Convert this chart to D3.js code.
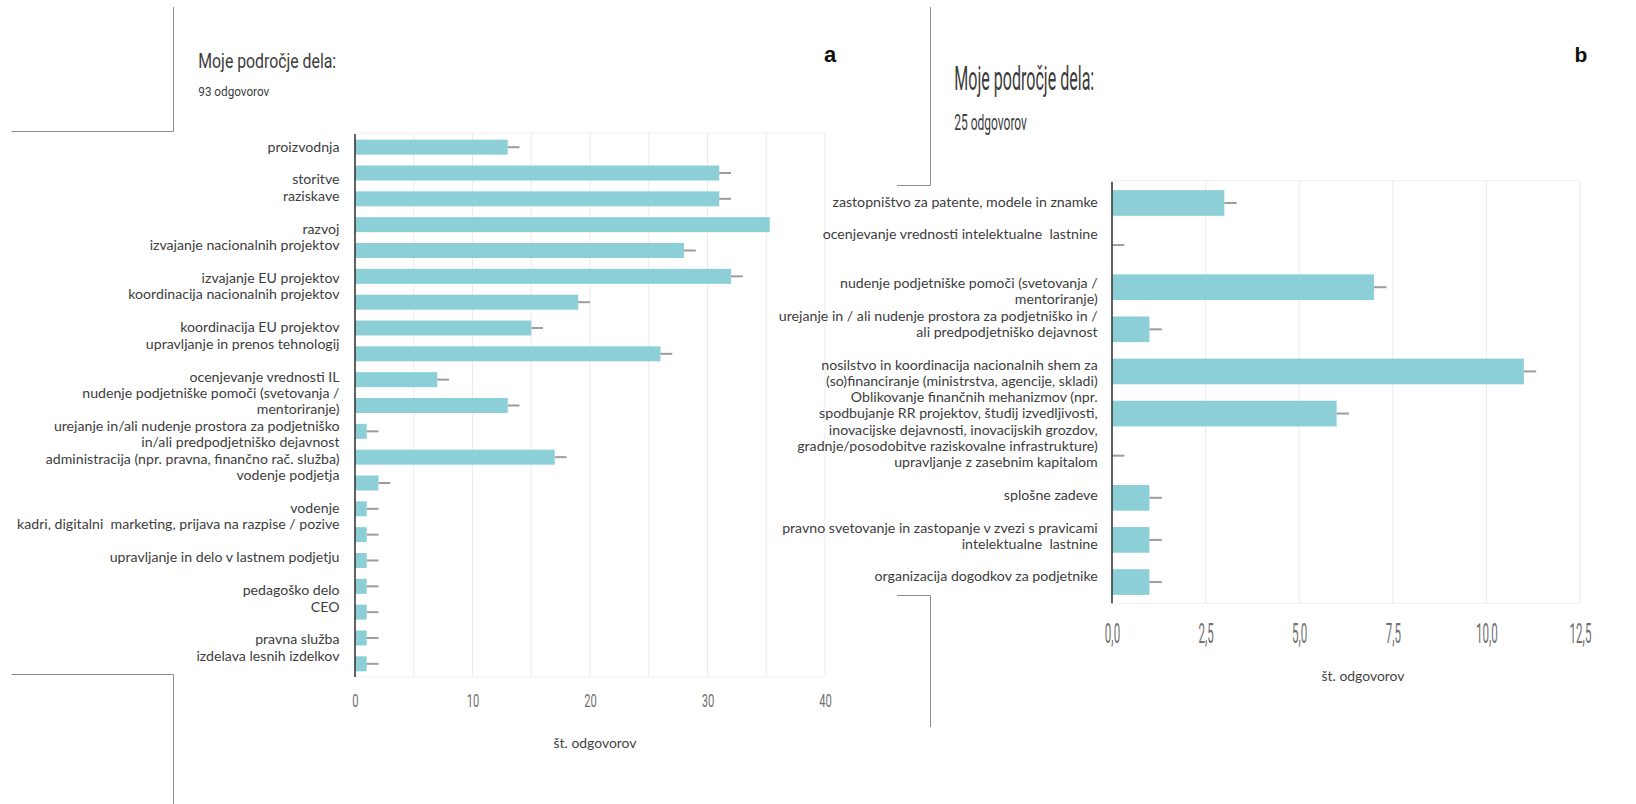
<!DOCTYPE html>
<html>
<head>
<meta charset="utf-8">
<script src="https://cdn.jsdelivr.net/npm/d3@7"></script>
<style>
  html, body { margin: 0; padding: 0; background: #ffffff; }
  svg { display: block; }
</style>
</head>
<body>
<script>
// ---------------- DATA ----------------
const catsA = [
  "proizvodnja", "storitve", "raziskave", "razvoj",
  "izvajanje nacionalnih projektov", "izvajanje EU projektov",
  "koordinacija nacionalnih projektov", "koordinacija EU projektov",
  "upravljanje in prenos tehnologij", "ocenjevanje vrednosti IL",
  "nudenje podjetniške pomoči (svetovanja / mentoriranje)",
  "urejanje in/ali nudenje prostora za podjetniško in/ali predpodjetniško dejavnost",
  "administracija (npr. pravna, finančno rač. služba)", "vodenje podjetja",
  "vodenje", "kadri, digitalni marketing, prijava na razpise / pozive",
  "upravljanje in delo v lastnem podjetju", "pedagoško delo", "CEO",
  "pravna služba", "izdelava lesnih izdelkov"
];
const valuesA = [13, 31, 31, 35.3, 28, 32, 19, 15, 26, 7, 13, 1, 17, 2, 1, 1, 1, 1, 1, 1, 1];
const errorsA = [1, 1, 1, 0, 1, 1, 1, 1, 1, 1, 1, 1, 1, 1, 1, 1, 1, 1, 1, 1, 1];
const labelLinesA = [
  "proizvodnja", "",
  "storitve", "raziskave", "",
  "razvoj", "izvajanje nacionalnih projektov", "",
  "izvajanje EU projektov", "koordinacija nacionalnih projektov", "",
  "koordinacija EU projektov", "upravljanje in prenos tehnologij", "",
  "ocenjevanje vrednosti IL", "nudenje podjetniške pomoči (svetovanja /",
  "mentoriranje)", "urejanje in/ali nudenje prostora za podjetniško",
  "in/ali predpodjetniško dejavnost",
  "administracija (npr. pravna, finančno rač. služba)", "vodenje podjetja", "",
  "vodenje", "kadri, digitalni  marketing, prijava na razpise / pozive", "",
  "upravljanje in delo v lastnem podjetju", "",
  "pedagoško delo", "CEO", "",
  "pravna služba", "izdelava lesnih izdelkov"
];
const ticksA = [0, 10, 20, 30, 40];
const tickLabelsA = ["0", "10", "20", "30", "40"];
const gridA = [5, 10, 15, 20, 25, 30, 35, 40];

const catsB = [
  "zastopništvo za patente, modele in znamke",
  "ocenjevanje vrednosti intelektualne lastnine",
  "nudenje podjetniške pomoči (svetovanja / mentoriranje)",
  "urejanje in / ali nudenje prostora za podjetniško in / ali predpodjetniško dejavnost",
  "nosilstvo in koordinacija nacionalnih shem za (so)financiranje (ministrstva, agencije, skladi)",
  "Oblikovanje finančnih mehanizmov (npr. spodbujanje RR projektov, študij izvedljivosti, inovacijske dejavnosti, inovacijskih grozdov, gradnje/posodobitve raziskovalne infrastrukture)",
  "upravljanje z zasebnim kapitalom",
  "splošne zadeve",
  "pravno svetovanje in zastopanje v zvezi s pravicami intelektualne lastnine",
  "organizacija dogodkov za podjetnike"
];
const valuesB = [3, 0, 7, 1, 11, 6, 0, 1, 1, 1];
const errorsB = [0.33, 0.33, 0.33, 0.33, 0.33, 0.33, 0.33, 0.33, 0.33, 0.33];
const labelLinesB = [
  "zastopništvo za patente, modele in znamke", "",
  "ocenjevanje vrednosti intelektualne  lastnine", "", "",
  "nudenje podjetniške pomoči (svetovanja /", "mentoriranje)",
  "urejanje in / ali nudenje prostora za podjetniško in /",
  "ali predpodjetniško dejavnost", "",
  "nosilstvo in koordinacija nacionalnih shem za",
  "(so)financiranje (ministrstva, agencije, skladi)",
  "Oblikovanje finančnih mehanizmov (npr.",
  "spodbujanje RR projektov, študij izvedljivosti,",
  "inovacijske dejavnosti, inovacijskih grozdov,",
  "gradnje/posodobitve raziskovalne infrastrukture)",
  "upravljanje z zasebnim kapitalom", "",
  "splošne zadeve", "",
  "pravno svetovanje in zastopanje v zvezi s pravicami",
  "intelektualne  lastnine", "",
  "organizacija dogodkov za podjetnike"
];
const ticksB = [0, 2.5, 5, 7.5, 10, 12.5];
const tickLabelsB = ["0,0", "2,5", "5,0", "7,5", "10,0", "12,5"];
const gridB = [2.5, 5, 7.5, 10, 12.5];

const titleText = "Moje področje dela:";
const subtitleA = "93 odgovorov";
const subtitleB = "25 odgovorov";
const axisTitle = "št. odgovorov";

// ---------------- STYLE ----------------
const BAR = "#8dcfd7";
const ERR = "#9c9c9c";
const GRID = "#ebebeb";
const FRAME = "#8c8c8c";
const LABEL_FONT = "Lato, 'Open Sans', sans-serif";
const TITLE_FONT = "Roboto, 'Noto Sans', sans-serif";

const W = 1636, H = 804;
const svg = d3.select("body").append("svg").attr("width", W).attr("height", H);
svg.append("rect").attr("width", W).attr("height", H).attr("fill", "#fff");

// frame fragments (pieces of pasted screenshots)
const framePaths = [
  [[173.5, 7], [173.5, 131.5], [11.5, 131.5]],
  [[11.5, 674.5], [173.5, 674.5], [173.5, 804]],
  [[930.5, 7], [930.5, 185.5], [897, 185.5]],
  [[897, 595.5], [930.5, 595.5], [930.5, 727]]
];
svg.selectAll("path.frame").data(framePaths).join("path")
  .attr("class", "frame")
  .attr("d", d3.line())
  .attr("fill", "none").attr("stroke", FRAME).attr("stroke-width", 1);

// helper: horizontally compressed text
function fitText(parent, x, y, txt, opts) {
  const g = parent.append("g").attr("transform", `translate(${x},${y})`);
  const t = g.append("text").text(txt)
    .attr("font-family", opts.font).attr("font-size", opts.size)
    .attr("font-weight", opts.weight || "normal")
    .attr("fill", opts.color).attr("text-anchor", opts.anchor || "start")
    .attr("dy", opts.dy || 0);
  if (opts.width) {
    const len = t.node().getComputedTextLength();
    t.attr("transform", `scale(${opts.width / len},1)`);
  } else if (opts.sx) {
    t.attr("transform", `scale(${opts.sx},1)`);
  }
  return t;
}

function drawChart(cfg) {
  const x = d3.scaleLinear().domain(cfg.domain).range(cfg.xRange);
  const y = d3.scaleBand().domain(cfg.cats).range(cfg.yRange)
    .paddingInner(cfg.padInner).paddingOuter(cfg.padOuter);
  const g = svg.append("g");

  // gridlines
  g.selectAll("line.grid").data(cfg.grid).join("line")
    .attr("x1", d => x(d)).attr("x2", d => x(d))
    .attr("y1", cfg.yRange[0] - 1).attr("y2", cfg.yRange[1])
    .attr("stroke", GRID).attr("stroke-width", 1);
  g.append("line")
    .attr("x1", x(cfg.domain[0])).attr("x2", x(cfg.domain[1]))
    .attr("y1", cfg.yRange[0] - 1).attr("y2", cfg.yRange[0] - 1)
    .attr("stroke", "#f1f1f1");
  g.append("line")
    .attr("x1", x(cfg.domain[0])).attr("x2", x(cfg.domain[1]))
    .attr("y1", cfg.yRange[1]).attr("y2", cfg.yRange[1])
    .attr("stroke", "#f1f1f1");

  // bars
  g.selectAll("rect.bar").data(cfg.cats).join("rect")
    .attr("class", "bar")
    .attr("x", x(0))
    .attr("y", d => y(d))
    .attr("width", (d, i) => x(cfg.values[i]) - x(0))
    .attr("height", y.bandwidth())
    .attr("fill", BAR);

  // error whiskers
  g.selectAll("line.err").data(cfg.cats.filter((d, i) => cfg.errors[i] > 0)).join("line")
    .attr("x1", d => x(cfg.values[cfg.cats.indexOf(d)]))
    .attr("x2", d => { const i = cfg.cats.indexOf(d); return x(cfg.values[i] + cfg.errors[i]); })
    .attr("y1", d => y(d) + y.bandwidth() / 2)
    .attr("y2", d => y(d) + y.bandwidth() / 2)
    .attr("stroke", ERR).attr("stroke-width", 2);

  // vertical axis line
  g.append("line")
    .attr("x1", x(0)).attr("x2", x(0))
    .attr("y1", cfg.yRange[0]).attr("y2", cfg.yRange[1])
    .attr("stroke", "#3a3a3a").attr("stroke-width", 1.6);

  // x axis ticks
  const ax = g.append("g").attr("transform", `translate(0,${cfg.yRange[1]})`)
    .call(d3.axisBottom(x).tickValues(cfg.ticks)
      .tickFormat((d, i) => cfg.tickLabels[i]).tickSize(0));
  ax.select(".domain").remove();
  ax.selectAll("text")
    .attr("y", cfg.tickOffset).attr("dy", "0.35em")
    .attr("font-family", TITLE_FONT).attr("font-size", cfg.tickSize)
    .attr("fill", "#707070")
    .attr("transform", `scale(${cfg.tickSx},1)`);

  // category labels (line grid)
  const ly = d3.scaleLinear().domain([0, 1]).range([cfg.lineY0, cfg.lineY0 + cfg.lineStep]);
  const lg = g.append("g").attr("transform", `translate(${cfg.labelRight},0)`);
  const texts = lg.selectAll("text.lab").data(labelIdx(cfg.lines)).join("text")
    .attr("class", "lab")
    .attr("y", d => ly(d.k)).attr("dy", "0.35em")
    .attr("text-anchor", "end")
    .attr("font-family", LABEL_FONT).attr("font-size", cfg.labelSize)
    .attr("fill", "#3d3d3d")
    .style("white-space", "pre")
    .text(d => d.t);
  const refNode = texts.filter(d => d.t === cfg.refLine).node();
  const sx = cfg.refWidth / refNode.getComputedTextLength();
  lg.attr("transform", `translate(${cfg.labelRight},0) scale(${sx},1)`);

  // axis title
  fitText(g, cfg.axisTitlePos[0], cfg.axisTitlePos[1], axisTitle,
    { font: LABEL_FONT, size: 14, color: "#444", anchor: "middle", dy: "0.35em", width: 83 });
}

function labelIdx(lines) {
  return lines.map((t, k) => ({ t, k })).filter(d => d.t !== "");
}

drawChart({
  cats: catsA, values: valuesA, errors: errorsA, lines: labelLinesA,
  domain: [0, 40], xRange: [355, 825], yRange: [134, 677],
  padInner: 0.42, padOuter: 0.22, grid: gridA,
  ticks: ticksA, tickLabels: tickLabelsA, tickOffset: 23, tickSize: 18.7, tickSx: 0.6,
  lineY0: 146.7, lineStep: 16.43, labelRight: 339.5, labelSize: 14,
  refLine: "administracija (npr. pravna, finančno rač. služba)", refWidth: 294,
  axisTitlePos: [595, 742.7]
});

drawChart({
  cats: catsB, values: valuesB, errors: errorsB, lines: labelLinesB,
  domain: [0, 12.5], xRange: [1112, 1580], yRange: [181.7, 603.3],
  padInner: 0.39, padOuter: 0.2, grid: gridB,
  ticks: ticksB, tickLabels: tickLabelsB, tickOffset: 30, tickSize: 27, tickSx: 0.43,
  lineY0: 201.7, lineStep: 16.3, labelRight: 1097.7, labelSize: 14,
  refLine: "(so)financiranje (ministrstva, agencije, skladi)", refWidth: 271.7,
  axisTitlePos: [1363, 676]
});

// titles
fitText(svg, 198.3, 67.7, titleText, { font: TITLE_FONT, size: 20, color: "#3c3c3c", width: 138 });
fitText(svg, 198.3, 96, subtitleA, { font: TITLE_FONT, size: 13, color: "#3c3c3c", width: 71 });
fitText(svg, 954.3, 90, titleText, { font: TITLE_FONT, size: 32.5, color: "#3c3c3c", width: 140 });
fitText(svg, 954.3, 130, subtitleB, { font: TITLE_FONT, size: 22.5, color: "#3c3c3c", width: 72.7 });

// panel letters
svg.append("text").attr("x", 830).attr("y", 62.3).attr("text-anchor", "middle")
  .attr("font-family", "'Liberation Sans', Arial, sans-serif").attr("font-weight", "bold")
  .attr("font-size", 22).attr("fill", "#111").text("a");
svg.append("text").attr("x", 1581).attr("y", 61.7).attr("text-anchor", "middle")
  .attr("font-family", "'Liberation Sans', Arial, sans-serif").attr("font-weight", "bold")
  .attr("font-size", 21).attr("fill", "#111").text("b");
</script>
</body>
</html>
